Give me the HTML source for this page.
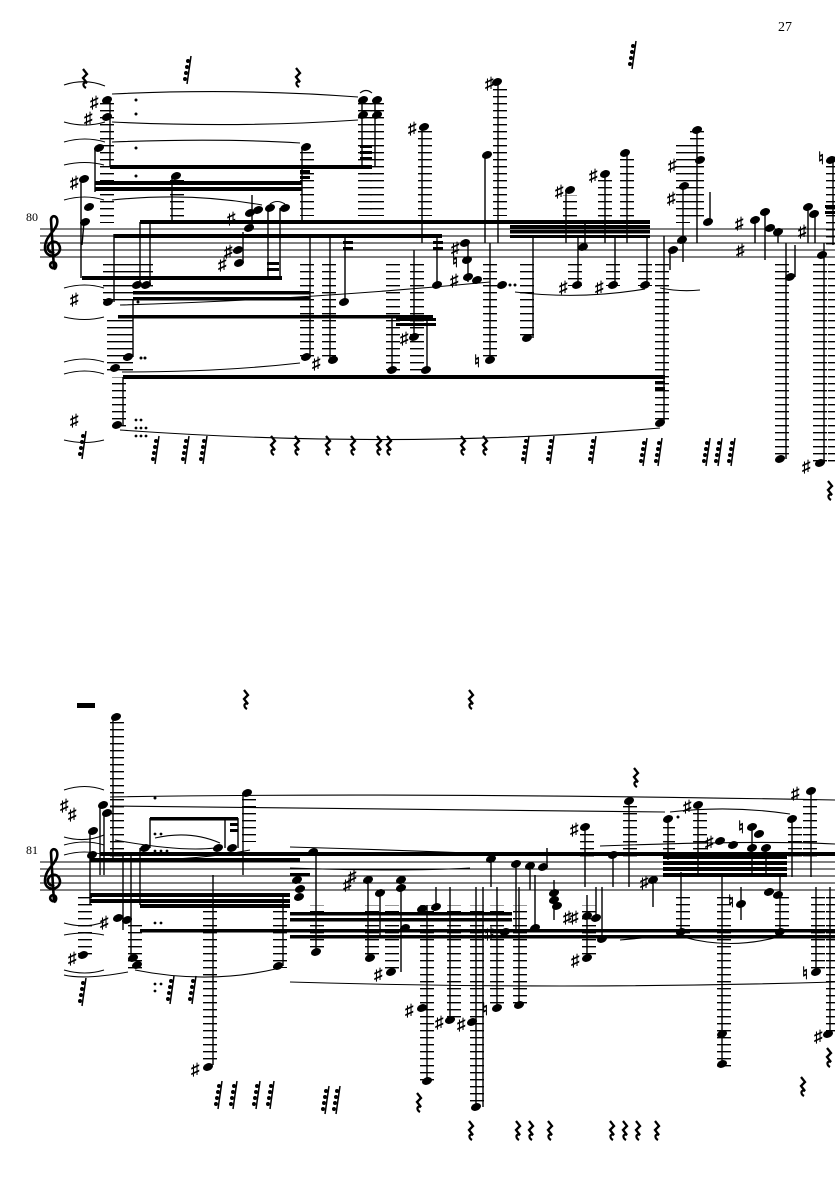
<!DOCTYPE html>
<html><head><meta charset="utf-8"><style>
html,body{margin:0;padding:0;background:#fff}
svg{display:block}
text{font-family:"Liberation Serif",serif}
.s{font-family:"DejaVu Sans",sans-serif;font-size:17px;font-weight:bold}
</style></head><body>
<svg width="835" height="1181" viewBox="0 0 835 1181" xmlns="http://www.w3.org/2000/svg">
<defs>
<pattern id="L" patternUnits="userSpaceOnUse" x="0" y="229" width="14" height="7"><rect x="0" y="0" width="14" height="1.4" fill="#000"/></pattern>
<pattern id="M" patternUnits="userSpaceOnUse" x="0" y="862" width="14" height="7"><rect x="0" y="0" width="14" height="1.4" fill="#000"/></pattern>
<ellipse id="n" cx="0" cy="0" rx="5.2" ry="3.7" transform="rotate(-22)" fill="#000"/>
<path id="r" d="M-1,-9 L3,-4 L-1,0 L3,5 C-1,3 -2,8 2,10" stroke="#000" stroke-width="2.3" fill="none"/>
<g id="q"><line x1="0" y1="14" x2="4" y2="-14" stroke="#000" stroke-width="1.5"/><circle cx="1" cy="-9" r="2"/><circle cx="0" cy="-3" r="2"/><circle cx="-1" cy="3" r="2"/><circle cx="-2" cy="9" r="2"/></g>
<path id="clef" d="M9,52 C3,54 1,47 6,46 C10,46 10,52 7,53 M7,53 L4,4 C4,-2 12,-1 10,8 C8,16 -2,20 -2,32 C-2,42 12,42 13,33 C13,25 4,23 1,30 C0,35 5,38 7,36" stroke="#000" stroke-width="2.6" fill="none"/>
</defs>

<text x="778" y="31" font-size="14">27</text>

<!-- ============ SYSTEM 1 ============ -->
<g stroke="#000" stroke-width="1">
<line x1="40" y1="229" x2="835" y2="229"/><line x1="40" y1="236" x2="835" y2="236"/><line x1="40" y1="243" x2="835" y2="243"/><line x1="40" y1="250" x2="835" y2="250"/><line x1="40" y1="257" x2="835" y2="257"/>
</g>
<text x="26" y="221" font-size="12">80</text>
<use href="#clef" x="47" y="216"/>

<g fill="url(#L)">
<rect x="100" y="103" width="14" height="120"/>
<rect x="103" y="263" width="50" height="40"/>
<rect x="107" y="317" width="26" height="55"/>
<rect x="112" y="377" width="14" height="50"/>
<rect x="170" y="180" width="14" height="37"/>
<rect x="358" y="100" width="14" height="116"/><rect x="370" y="100" width="14" height="116"/>
<rect x="300" y="150" width="14" height="66"/>
<rect x="418" y="130" width="14" height="86"/>
<rect x="493" y="85" width="14" height="131"/>
<rect x="300" y="263" width="14" height="96"/>
<rect x="322" y="263" width="14" height="98"/>
<rect x="386" y="263" width="14" height="110"/><rect x="410" y="263" width="14" height="110"/>
<rect x="483" y="263" width="14" height="98"/>
<rect x="563" y="195" width="14" height="27"/>
<rect x="598" y="178" width="14" height="44"/>
<rect x="620" y="157" width="14" height="65"/>
<rect x="520" y="263" width="14" height="73"/>
<rect x="568" y="263" width="14" height="23"/><rect x="606" y="263" width="14" height="23"/><rect x="638" y="263" width="14" height="23"/>
<rect x="655" y="263" width="14" height="161"/>
<rect x="676" y="145" width="14" height="78"/><rect x="690" y="130" width="14" height="92"/>
<rect x="775" y="263" width="14" height="197"/>
<rect x="813" y="263" width="14" height="201"/>
<rect x="826" y="165" width="9" height="80"/>
<rect x="828" y="263" width="7" height="200"/>
</g>

<g fill="#000">
<rect x="110" y="165" width="262" height="4"/>
<rect x="95" y="181" width="207" height="4"/><rect x="95" y="187" width="207" height="4"/>
<rect x="140" y="220" width="510" height="4"/>
<rect x="510" y="225" width="140" height="3.5"/><rect x="510" y="230" width="140" height="3.5"/><rect x="510" y="235" width="140" height="3"/>
<rect x="114" y="234" width="328" height="4"/>
<rect x="82" y="276" width="200" height="4"/>
<rect x="133" y="291" width="177" height="3.5"/><rect x="133" y="297" width="177" height="3.5"/>
<rect x="118" y="315" width="315" height="3.5"/>
<rect x="123" y="375" width="542" height="4"/>
<rect x="360" y="145" width="12" height="3"/><rect x="360" y="151" width="12" height="3"/><rect x="360" y="157" width="12" height="3"/>
<rect x="396" y="318" width="40" height="3"/><rect x="396" y="323" width="40" height="3"/>
<rect x="267" y="262" width="12" height="3"/><rect x="267" y="268" width="12" height="3"/>
<rect x="300" y="170" width="10" height="3"/><rect x="300" y="176" width="10" height="3"/>
<rect x="343" y="241" width="10" height="3"/><rect x="343" y="247" width="10" height="3"/>
<rect x="433" y="241" width="10" height="3"/><rect x="433" y="247" width="10" height="3"/>
<rect x="655" y="381" width="10" height="3"/><rect x="655" y="387" width="10" height="3"/>
<rect x="825" y="205" width="10" height="3"/><rect x="825" y="211" width="10" height="3"/>
</g>

<g stroke="#000" stroke-width="1.4">
<line x1="110" y1="100" x2="110" y2="167"/><line x1="95" y1="148" x2="95" y2="192"/>
<line x1="81" y1="180" x2="81" y2="278"/><line x1="114" y1="234" x2="114" y2="302"/>
<line x1="140" y1="222" x2="140" y2="285"/><line x1="150" y1="222" x2="150" y2="285"/>
<line x1="133" y1="300" x2="133" y2="357"/><line x1="123" y1="377" x2="123" y2="425"/>
<line x1="172" y1="176" x2="172" y2="222"/>
<line x1="252" y1="195" x2="252" y2="228"/><line x1="243" y1="232" x2="243" y2="262"/>
<line x1="268" y1="208" x2="268" y2="277"/><line x1="280" y1="208" x2="280" y2="277"/>
<line x1="362" y1="100" x2="362" y2="167"/><line x1="375" y1="100" x2="375" y2="167"/>
<line x1="302" y1="147" x2="302" y2="222"/><line x1="422" y1="127" x2="422" y2="243"/>
<line x1="485" y1="155" x2="485" y2="243"/><line x1="498" y1="82" x2="498" y2="243"/>
<line x1="310" y1="236" x2="310" y2="357"/><line x1="330" y1="236" x2="330" y2="360"/>
<line x1="345" y1="238" x2="345" y2="302"/><line x1="392" y1="318" x2="392" y2="370"/>
<line x1="427" y1="318" x2="427" y2="370"/><line x1="414" y1="250" x2="414" y2="337"/>
<line x1="437" y1="238" x2="437" y2="285"/><line x1="468" y1="243" x2="468" y2="282"/>
<line x1="490" y1="243" x2="490" y2="360"/>
<line x1="566" y1="190" x2="566" y2="243"/><line x1="585" y1="222" x2="585" y2="247"/>
<line x1="605" y1="174" x2="605" y2="243"/><line x1="627" y1="153" x2="627" y2="243"/>
<line x1="533" y1="236" x2="533" y2="338"/><line x1="578" y1="236" x2="578" y2="285"/>
<line x1="615" y1="236" x2="615" y2="285"/><line x1="647" y1="236" x2="647" y2="285"/>
<line x1="664" y1="236" x2="664" y2="423"/>
<line x1="670" y1="250" x2="670" y2="270"/><line x1="683" y1="186" x2="683" y2="262"/>
<line x1="697" y1="130" x2="697" y2="243"/><line x1="710" y1="192" x2="710" y2="222"/>
<line x1="755" y1="220" x2="755" y2="243"/><line x1="765" y1="212" x2="765" y2="260"/><line x1="778" y1="232" x2="778" y2="243"/>
<line x1="786" y1="243" x2="786" y2="459"/><line x1="795" y1="245" x2="795" y2="277"/>
<line x1="808" y1="207" x2="808" y2="243"/><line x1="815" y1="214" x2="815" y2="243"/>
<line x1="824" y1="243" x2="824" y2="463"/><line x1="833" y1="160" x2="833" y2="245"/>
<line x1="84" y1="222" x2="82" y2="245"/>
</g>

<g>
<use href="#n" x="107" y="100"/><use href="#n" x="107" y="117"/><use href="#n" x="99" y="148"/>
<use href="#n" x="84" y="179"/><use href="#n" x="89" y="207"/><use href="#n" x="85" y="222"/>
<use href="#n" x="137" y="285"/><use href="#n" x="146" y="285"/><use href="#n" x="108" y="302"/>
<use href="#n" x="128" y="357"/><use href="#n" x="115" y="368"/><use href="#n" x="117" y="425"/>
<use href="#n" x="176" y="176"/>
<use href="#n" x="249" y="228"/><use href="#n" x="250" y="213"/><use href="#n" x="258" y="210"/><use href="#n" x="270" y="208"/><use href="#n" x="285" y="208"/>
<use href="#n" x="238" y="250"/><use href="#n" x="239" y="263"/>
<use href="#n" x="363" y="100"/><use href="#n" x="363" y="115"/><use href="#n" x="377" y="100"/><use href="#n" x="377" y="115"/>
<use href="#n" x="306" y="147"/><use href="#n" x="424" y="127"/><use href="#n" x="497" y="82"/><use href="#n" x="487" y="155"/>
<use href="#n" x="306" y="357"/><use href="#n" x="333" y="360"/><use href="#n" x="344" y="302"/>
<use href="#n" x="392" y="370"/><use href="#n" x="426" y="370"/><use href="#n" x="414" y="337"/><use href="#n" x="437" y="285"/>
<use href="#n" x="465" y="243"/><use href="#n" x="467" y="260"/><use href="#n" x="468" y="277"/><use href="#n" x="477" y="280"/>
<use href="#n" x="502" y="285"/><use href="#n" x="490" y="360"/>
<use href="#n" x="570" y="190"/><use href="#n" x="583" y="247"/><use href="#n" x="605" y="174"/><use href="#n" x="625" y="153"/>
<use href="#n" x="527" y="338"/><use href="#n" x="577" y="285"/><use href="#n" x="613" y="285"/><use href="#n" x="645" y="285"/>
<use href="#n" x="660" y="423"/>
<use href="#n" x="673" y="250"/><use href="#n" x="682" y="240"/><use href="#n" x="708" y="222"/>
<use href="#n" x="684" y="186"/><use href="#n" x="697" y="130"/><use href="#n" x="700" y="160"/>
<use href="#n" x="755" y="220"/><use href="#n" x="765" y="212"/><use href="#n" x="770" y="228"/><use href="#n" x="778" y="232"/>
<use href="#n" x="780" y="459"/><use href="#n" x="790" y="277"/>
<use href="#n" x="808" y="207"/><use href="#n" x="814" y="214"/><use href="#n" x="822" y="255"/><use href="#n" x="820" y="463"/><use href="#n" x="831" y="160"/>
</g>

<g class="s">
<text x="90" y="108">♯</text><text x="84" y="124">♯</text><text x="70" y="188">♯</text>
<text x="70" y="305">♯</text><text x="70" y="426">♯</text>
<text x="227" y="224">♯</text><text x="224" y="257">♯</text><text x="218" y="270">♯</text>
<text x="408" y="134">♯</text><text x="485" y="89">♯</text><text x="312" y="369">♯</text><text x="400" y="344">♯</text>
<text x="451" y="254">♯</text><text x="450" y="286">♯</text><text x="474" y="367">♮</text><text x="452" y="267">♮</text>
<text x="555" y="197">♯</text><text x="589" y="181">♯</text><text x="559" y="293">♯</text><text x="595" y="293">♯</text>
<text x="667" y="204">♯</text><text x="668" y="171">♯</text><text x="735" y="229">♯</text><text x="736" y="256">♯</text>
<text x="798" y="237">♯</text><text x="802" y="472">♯</text><text x="818" y="164">♮</text>
</g>

<g fill="#000">
<circle cx="136" cy="100" r="1.5"/><circle cx="136" cy="114" r="1.5"/><circle cx="136" cy="148" r="1.5"/><circle cx="136" cy="176" r="1.5"/>
<circle cx="138" cy="302" r="1.5"/><circle cx="141" cy="358" r="1.5"/><circle cx="145" cy="358" r="1.5"/>
<circle cx="136" cy="420" r="1.4"/><circle cx="141" cy="420" r="1.4"/><circle cx="136" cy="428" r="1.4"/><circle cx="141" cy="428" r="1.4"/><circle cx="146" cy="428" r="1.4"/>
<circle cx="136" cy="436" r="1.4"/><circle cx="141" cy="436" r="1.4"/><circle cx="146" cy="436" r="1.4"/>
<circle cx="510" cy="285" r="1.5"/><circle cx="515" cy="285" r="1.5"/>
</g>

<g stroke="#000" stroke-width="1.1" fill="none">
<path d="M64,85 Q85,78 105,86"/><path d="M64,122 Q85,128 105,122"/><path d="M64,142 Q85,136 105,142"/><path d="M64,165 Q85,160 104,165"/>
<path d="M64,200 Q85,194 104,200"/><path d="M64,288 Q85,282 104,288"/><path d="M64,317 Q85,322 104,317"/><path d="M64,362 Q85,356 104,362"/><path d="M64,374 Q85,368 104,374"/><path d="M64,440 Q85,445 104,440"/>
<path d="M112,94 Q240,88 358,97"/><path d="M112,122 Q240,128 358,120"/><path d="M112,142 Q220,138 300,143"/>
<path d="M112,200 Q190,192 262,205"/><path d="M270,204 Q277,199 285,204"/><path d="M360,93 Q366,88 372,93"/>
<path d="M120,305 Q300,300 490,282"/><path d="M122,372 Q220,372 300,363"/><path d="M120,430 Q400,450 660,428"/>
<path d="M515,292 Q580,300 645,289"/><path d="M660,288 Q680,292 700,290"/>
</g>

<g>
<use href="#r" x="297" y="77"/><use href="#q" x="187" y="70"/><use href="#r" x="84" y="78"/><use href="#q" x="632" y="55"/>
<use href="#r" x="272" y="445"/><use href="#r" x="296" y="445"/><use href="#r" x="327" y="445"/><use href="#r" x="352" y="445"/><use href="#r" x="378" y="445"/><use href="#r" x="388" y="445"/><use href="#r" x="462" y="445"/><use href="#r" x="484" y="445"/>
<use href="#q" x="155" y="450"/><use href="#q" x="185" y="450"/><use href="#q" x="203" y="450"/><use href="#q" x="525" y="450"/><use href="#q" x="550" y="450"/><use href="#q" x="592" y="450"/><use href="#q" x="643" y="452"/><use href="#q" x="658" y="452"/>
<use href="#q" x="706" y="452"/><use href="#q" x="718" y="452"/><use href="#q" x="731" y="452"/><use href="#q" x="82" y="445"/>
<use href="#r" x="829" y="490"/>
</g>

<!-- ============ SYSTEM 2 ============ -->
<g stroke="#000" stroke-width="1">
<line x1="40" y1="862" x2="835" y2="862"/><line x1="40" y1="869" x2="835" y2="869"/><line x1="40" y1="876" x2="835" y2="876"/><line x1="40" y1="883" x2="835" y2="883"/><line x1="40" y1="890" x2="835" y2="890"/>
</g>
<text x="26" y="854" font-size="12">81</text>
<use href="#clef" x="47" y="849"/>
<rect x="77" y="703" width="18" height="5" fill="#000"/>

<g fill="url(#M)">
<rect x="110" y="720" width="14" height="140"/>
<rect x="78" y="897" width="14" height="60"/>
<rect x="128" y="925" width="14" height="45"/>
<rect x="203" y="908" width="14" height="155"/>
<rect x="242" y="797" width="14" height="45"/>
<rect x="273" y="908" width="14" height="60"/>
<rect x="310" y="905" width="14" height="45"/>
<rect x="365" y="905" width="14" height="55"/><rect x="385" y="905" width="14" height="67"/>
<rect x="420" y="905" width="14" height="176"/><rect x="447" y="905" width="14" height="115"/>
<rect x="470" y="905" width="14" height="202"/><rect x="490" y="905" width="14" height="104"/><rect x="513" y="905" width="14" height="100"/>
<rect x="580" y="830" width="14" height="30"/><rect x="582" y="905" width="14" height="55"/>
<rect x="623" y="805" width="14" height="55"/>
<rect x="663" y="822" width="12" height="40"/><rect x="693" y="808" width="14" height="52"/>
<rect x="676" y="897" width="14" height="38"/><rect x="717" y="897" width="14" height="170"/>
<rect x="775" y="897" width="14" height="35"/><rect x="788" y="822" width="14" height="40"/><rect x="803" y="795" width="14" height="65"/>
<rect x="811" y="897" width="14" height="75"/><rect x="826" y="897" width="9" height="140"/>
</g>

<g fill="#000">
<rect x="100" y="852" width="735" height="4"/>
<rect x="90" y="858" width="210" height="3.5"/>
<rect x="150" y="817" width="88" height="3.5"/><rect x="230" y="823" width="8" height="3"/><rect x="230" y="829" width="8" height="3"/>
<rect x="90" y="893" width="200" height="4"/><rect x="90" y="899" width="200" height="4"/><rect x="140" y="904" width="150" height="4"/>
<rect x="140" y="929" width="695" height="3.5"/>
<rect x="290" y="912" width="222" height="3.5"/><rect x="290" y="918" width="222" height="3.5"/>
<rect x="290" y="873" width="20" height="3"/>
<rect x="663" y="855" width="124" height="4"/><rect x="663" y="861" width="124" height="4"/><rect x="663" y="867" width="124" height="4"/><rect x="663" y="873" width="124" height="4"/>
<rect x="290" y="935" width="545" height="3.5"/>
</g>

<g stroke="#000" stroke-width="1.4">
<line x1="113" y1="717" x2="113" y2="862"/><line x1="100" y1="805" x2="100" y2="875"/><line x1="104" y1="813" x2="104" y2="875"/>
<line x1="90" y1="831" x2="90" y2="905"/><line x1="123" y1="855" x2="123" y2="930"/><line x1="131" y1="855" x2="131" y2="960"/>
<line x1="140" y1="848" x2="140" y2="905"/><line x1="150" y1="818" x2="150" y2="848"/><line x1="225" y1="818" x2="225" y2="848"/><line x1="238" y1="818" x2="238" y2="848"/>
<line x1="243" y1="795" x2="243" y2="875"/><line x1="213" y1="875" x2="213" y2="1065"/><line x1="283" y1="895" x2="283" y2="966"/>
<line x1="316" y1="852" x2="316" y2="952"/><line x1="368" y1="880" x2="368" y2="958"/><line x1="380" y1="893" x2="380" y2="935"/>
<line x1="401" y1="883" x2="401" y2="972"/><line x1="427" y1="905" x2="427" y2="1081"/><line x1="436" y1="887" x2="436" y2="907"/>
<line x1="450" y1="887" x2="450" y2="1020"/><line x1="476" y1="887" x2="476" y2="1107"/><line x1="483" y1="887" x2="483" y2="1107"/>
<line x1="497" y1="887" x2="497" y2="1008"/><line x1="519" y1="887" x2="519" y2="1005"/><line x1="535" y1="875" x2="535" y2="928"/>
<line x1="491" y1="859" x2="491" y2="887"/><line x1="516" y1="864" x2="516" y2="930"/><line x1="530" y1="866" x2="530" y2="890"/>
<line x1="547" y1="848" x2="547" y2="868"/><line x1="554" y1="880" x2="554" y2="920"/>
<line x1="585" y1="827" x2="585" y2="887"/><line x1="587" y1="895" x2="587" y2="958"/><line x1="596" y1="887" x2="596" y2="918"/><line x1="602" y1="887" x2="602" y2="939"/>
<line x1="613" y1="855" x2="613" y2="887"/><line x1="629" y1="801" x2="629" y2="887"/>
<line x1="653" y1="880" x2="653" y2="907"/><line x1="668" y1="819" x2="668" y2="860"/><line x1="681" y1="872" x2="681" y2="932"/>
<line x1="698" y1="805" x2="698" y2="877"/><line x1="722" y1="877" x2="722" y2="1064"/><line x1="741" y1="887" x2="741" y2="920"/>
<line x1="752" y1="827" x2="752" y2="877"/><line x1="766" y1="848" x2="766" y2="877"/><line x1="780" y1="877" x2="780" y2="932"/>
<line x1="792" y1="819" x2="792" y2="877"/><line x1="811" y1="791" x2="811" y2="877"/><line x1="816" y1="887" x2="816" y2="972"/><line x1="830" y1="887" x2="830" y2="1034"/>
</g>

<g>
<use href="#n" x="116" y="717"/><use href="#n" x="103" y="805"/><use href="#n" x="107" y="813"/><use href="#n" x="93" y="831"/><use href="#n" x="92" y="855"/>
<use href="#n" x="118" y="918"/><use href="#n" x="127" y="920"/><use href="#n" x="133" y="958"/><use href="#n" x="137" y="965"/><use href="#n" x="83" y="955"/>
<use href="#n" x="145" y="848"/><use href="#n" x="218" y="848"/><use href="#n" x="232" y="848"/><use href="#n" x="247" y="793"/>
<use href="#n" x="208" y="1067"/><use href="#n" x="278" y="966"/>
<use href="#n" x="297" y="880"/><use href="#n" x="300" y="889"/><use href="#n" x="299" y="897"/><use href="#n" x="313" y="852"/><use href="#n" x="316" y="952"/>
<use href="#n" x="368" y="880"/><use href="#n" x="380" y="893"/><use href="#n" x="401" y="880"/><use href="#n" x="401" y="888"/>
<use href="#n" x="370" y="958"/><use href="#n" x="391" y="972"/><use href="#n" x="405" y="928"/>
<use href="#n" x="422" y="909"/><use href="#n" x="436" y="907"/>
<use href="#n" x="427" y="1081"/><use href="#n" x="422" y="1008"/><use href="#n" x="450" y="1020"/><use href="#n" x="476" y="1107"/><use href="#n" x="472" y="1022"/>
<use href="#n" x="497" y="1008"/><use href="#n" x="519" y="1005"/><use href="#n" x="505" y="932"/><use href="#n" x="535" y="928"/>
<use href="#n" x="491" y="859"/><use href="#n" x="516" y="864"/><use href="#n" x="530" y="866"/><use href="#n" x="543" y="867"/>
<use href="#n" x="554" y="893"/><use href="#n" x="554" y="900"/><use href="#n" x="557" y="906"/>
<use href="#n" x="585" y="827"/><use href="#n" x="587" y="916"/><use href="#n" x="596" y="918"/><use href="#n" x="587" y="958"/><use href="#n" x="602" y="939"/>
<use href="#n" x="613" y="855"/><use href="#n" x="629" y="801"/>
<use href="#n" x="653" y="880"/><use href="#n" x="668" y="819"/><use href="#n" x="698" y="805"/><use href="#n" x="681" y="932"/>
<use href="#n" x="720" y="841"/><use href="#n" x="733" y="845"/><use href="#n" x="752" y="827"/><use href="#n" x="759" y="834"/><use href="#n" x="752" y="848"/><use href="#n" x="766" y="848"/>
<use href="#n" x="741" y="904"/><use href="#n" x="769" y="892"/><use href="#n" x="778" y="895"/><use href="#n" x="780" y="932"/>
<use href="#n" x="722" y="1034"/><use href="#n" x="722" y="1064"/>
<use href="#n" x="792" y="819"/><use href="#n" x="811" y="791"/><use href="#n" x="816" y="972"/><use href="#n" x="828" y="1034"/>
</g>

<g class="s">
<text x="60" y="811">♯</text><text x="68" y="820">♯</text><text x="100" y="928">♯</text><text x="68" y="964">♯</text><text x="191" y="1075">♯</text>
<text x="343" y="890">♯</text><text x="348" y="882">♯</text><text x="374" y="980">♯</text>
<text x="405" y="1016">♯</text><text x="435" y="1028">♯</text><text x="457" y="1030">♯</text><text x="482" y="1015">♮</text><text x="485" y="939">♯</text>
<text x="570" y="835">♯</text><text x="563" y="923">♯</text><text x="570" y="923">♯</text><text x="571" y="966">♯</text>
<text x="640" y="888">♯</text><text x="683" y="812">♯</text><text x="705" y="848">♯</text><text x="738" y="833">♮</text><text x="728" y="907">♮</text>
<text x="791" y="799">♯</text><text x="802" y="979">♮</text><text x="814" y="1042">♯</text>
</g>

<g fill="#000">
<circle cx="155" cy="798" r="1.5"/><circle cx="155" cy="834" r="1.4"/><circle cx="161" cy="834" r="1.4"/>
<circle cx="155" cy="851" r="1.4"/><circle cx="161" cy="851" r="1.4"/><circle cx="167" cy="851" r="1.4"/>
<circle cx="155" cy="923" r="1.4"/><circle cx="161" cy="923" r="1.4"/><circle cx="678" cy="817" r="1.5"/>
<circle cx="155" cy="984" r="1.4"/><circle cx="155" cy="991" r="1.4"/><circle cx="161" cy="984" r="1.4"/>
</g>

<g stroke="#000" stroke-width="1.1" fill="none">
<path d="M64,790 Q85,783 104,790"/><path d="M64,837 Q85,843 104,835"/><path d="M64,845 Q85,839 104,845"/><path d="M64,855 Q85,849 104,855"/>
<path d="M64,923 Q85,929 104,922"/><path d="M64,935 Q85,931 104,935"/><path d="M64,970 Q85,976 104,970"/><path d="M64,975 Q85,980 128,972"/>
<path d="M110,797 Q400,792 835,800"/><path d="M110,806 Q400,808 665,812"/><path d="M115,840 Q180,852 215,848"/><path d="M155,838 Q190,830 220,843"/>
<path d="M290,847 Q400,850 515,855"/><path d="M290,868 Q400,872 470,868"/><path d="M135,860 Q200,860 250,850"/>
<path d="M135,970 Q210,985 280,968"/><path d="M290,982 Q560,990 835,982"/><path d="M620,940 Q640,938 681,935"/>
<path d="M683,937 Q730,950 778,937"/><path d="M670,812 Q730,805 790,814"/><path d="M600,846 Q760,840 835,844"/>
</g>

<g>
<use href="#r" x="245" y="699"/><use href="#r" x="470" y="699"/><use href="#r" x="635" y="777"/>
<use href="#r" x="418" y="1102"/><use href="#r" x="470" y="1130"/><use href="#r" x="517" y="1130"/><use href="#r" x="530" y="1130"/><use href="#r" x="549" y="1130"/>
<use href="#r" x="611" y="1130"/><use href="#r" x="624" y="1130"/><use href="#r" x="637" y="1130"/><use href="#r" x="656" y="1130"/>
<use href="#r" x="802" y="1086"/><use href="#r" x="828" y="1057"/>
<use href="#q" x="170" y="990"/><use href="#q" x="192" y="990"/><use href="#q" x="82" y="992"/>
<use href="#q" x="218" y="1095"/><use href="#q" x="233" y="1095"/><use href="#q" x="256" y="1095"/><use href="#q" x="270" y="1095"/>
<use href="#q" x="325" y="1100"/><use href="#q" x="336" y="1100"/>
</g>
</svg>
</body></html>
